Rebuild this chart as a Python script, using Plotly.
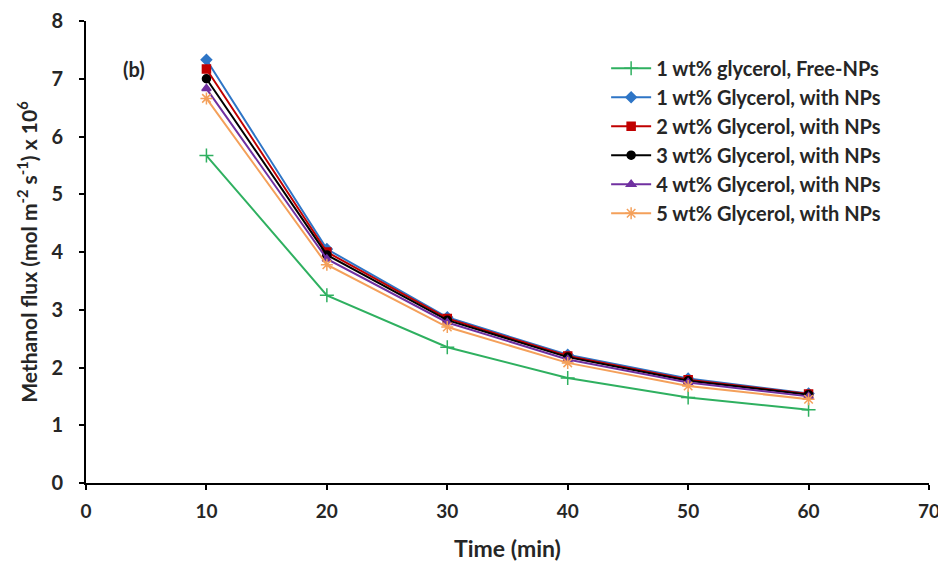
import plotly.graph_objects as go

time_min = [10, 20, 30, 40, 50, 60]

names = [
    "1 wt% glycerol, Free-NPs",
    "1 wt% Glycerol, with NPs",
    "2 wt% Glycerol, with NPs",
    "3 wt% Glycerol, with NPs",
    "4 wt% Glycerol, with NPs",
    "5 wt% Glycerol, with NPs",
]
free_1 = [5.67, 3.25, 2.35, 1.82, 1.48, 1.27]
np_1 = [7.33, 4.05, 2.87, 2.22, 1.81, 1.55]
np_2 = [7.17, 4.00, 2.85, 2.20, 1.79, 1.54]
np_3 = [7.00, 3.95, 2.82, 2.18, 1.77, 1.53]
np_4 = [6.83, 3.88, 2.78, 2.14, 1.74, 1.50]
np_5 = [6.66, 3.78, 2.70, 2.08, 1.68, 1.45]

series = [free_1, np_1, np_2, np_3, np_4, np_5]
colors = ["#2fb060", "#2e75c6", "#c00000", "#000000", "#7030a0", "#f4a05a"]
symbols = ["cross-thin-open", "diamond", "square", "circle", "triangle-up", "asterisk-open"]
msizes = [10, 8, 8, 8, 8, 10]

fig = go.Figure()
for i, (nm, ys) in enumerate(zip(names, series)):
    fig.add_trace(go.Scatter(
        x=time_min, y=ys, name=nm, mode="lines+markers",
        legendgroup=str(i),
        line=dict(color=colors[i], width=2),
        marker=dict(symbol=symbols[i], size=msizes[i], color=colors[i],
                    line=dict(color=colors[i], width=1.5)),
    ))

font_family = "Lato, Open Sans, sans-serif"
txt = "#262626"
fig.update_layout(
    width=936, height=558,
    margin=dict(l=78, r=15, t=13, b=83),
    paper_bgcolor="white", plot_bgcolor="white",
    font=dict(family=font_family, size=20, color=txt),
    showlegend=True,
    legend=dict(x=0.617, y=0.94, xanchor="left", yanchor="top",
                bgcolor="rgba(0,0,0,0)", tracegroupgap=0,
                font=dict(size=20, color=txt, family=font_family, weight="bold"),
                itemwidth=40),
    xaxis=dict(range=[0, 70], dtick=10, showgrid=False, zeroline=False,
               showline=True, linecolor="black", linewidth=2, automargin=False,
               ticks="outside", tickcolor="black", tickwidth=2, ticklen=5,
               ticklabelstandoff=5,
               tickfont=dict(size=19, weight="bold", color=txt),
               title=dict(text="<b>Time (min)</b>", font=dict(size=23, color=txt), standoff=20)),
    yaxis=dict(range=[0, 8], dtick=1, showgrid=False, zeroline=False,
               showline=True, linecolor="black", linewidth=2, automargin=False,
               ticks="outside", tickcolor="black", tickwidth=2, ticklen=5,
               ticklabelstandoff=12,
               tickfont=dict(size=20, weight="bold", color=txt),
               title=dict(text="<b>Methanol flux (mol m<sup>-2</sup> s<sup>-1</sup>) x 10<sup>6</sup></b>",
                          font=dict(size=21, color=txt), standoff=8)),
    annotations=[dict(x=4.0, y=7.17, xref="x", yref="y", text="<b>(b)</b>",
                      showarrow=False, font=dict(size=20, color=txt))],
)

fig.write_html("out.html")
